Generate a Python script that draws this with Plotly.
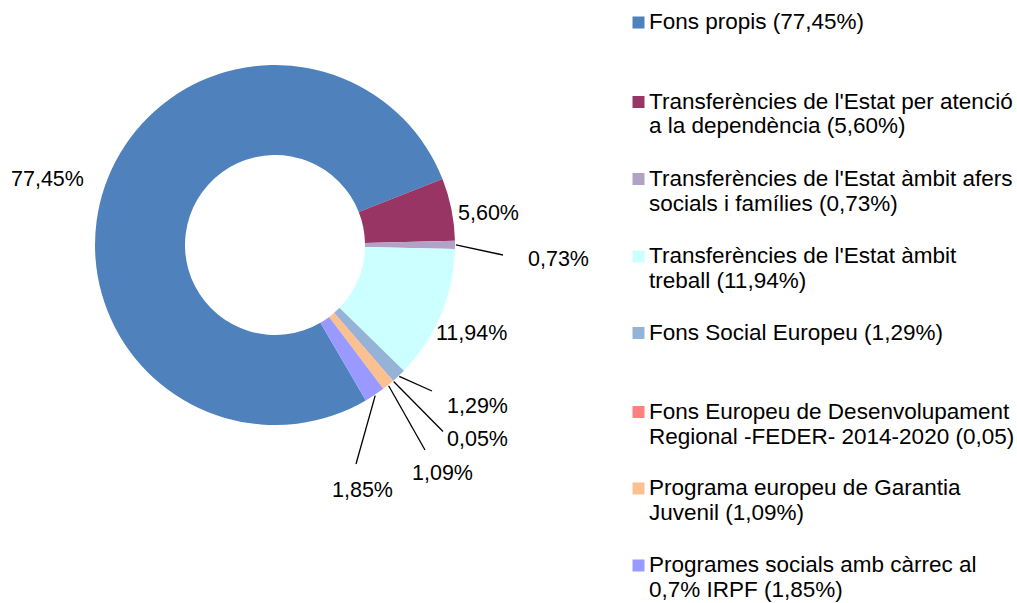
import math
import plotly.graph_objects as go

# ---------------- data ----------------
categories = [
    "Fons propis",
    "Transferències de l'Estat per atenció a la dependència",
    "Transferències de l'Estat àmbit afers socials i famílies",
    "Transferències de l'Estat àmbit treball",
    "Fons Social Europeu",
    "Fons Europeu de Desenvolupament Regional -FEDER- 2014-2020",
    "Programa europeu de Garantia Juvenil",
    "Programes socials amb càrrec al 0,7% IRPF",
]
values = [77.45, 5.60, 0.73, 11.94, 1.29, 0.05, 1.09, 1.85]
legend_labels = [
    "Fons propis (77,45%)",
    "Transferències de l'Estat per atenció<br>a la dependència (5,60%)",
    "Transferències de l'Estat àmbit afers<br>socials i famílies (0,73%)",
    "Transferències de l'Estat àmbit<br>treball (11,94%)",
    "Fons Social Europeu (1,29%)",
    "Fons Europeu de Desenvolupament<br>Regional -FEDER- 2014-2020 (0,05)",
    "Programa europeu de Garantia<br>Juvenil (1,09%)",
    "Programes socials amb càrrec al<br>0,7% IRPF (1,85%)",
]

# ---------------- style / layout ----------------
colors = ["#4F81BD", "#983564", "#B3A2C7", "#CCFFFF",
          "#95B3D7", "#FF8080", "#FAC090", "#9999FF"]
W, H = 1017, 603
CX, CY, R = 275.0, 245.0, 180.0
HOLE = 0.5
ROTATION = 149.7
FONT = "Liberation Sans, Arial, sans-serif"
LABEL_SIZE = 21.5
LEGEND_SIZE = 22.5

# label centre positions (px) and optional leader-line end points (px)
label_pos = [(47.5, 179), (488.5, 212.5), (558, 259), (471, 332.5),
             (477, 406), (477, 439), (442, 473), (362.5, 490)]
leader_end = [None, None, (503, 255), None,
              (432, 391), (443, 431.5), (425, 450), (356, 464)]

legend_y = [21.5, 101, 178, 255.5, 332, 411, 487.5, 564.5]  # cap centre of first line
legend_marker_x = 632.5
legend_text_x = 647
legend_line_gap = 25
marker_size = 12


def px2paper(x, y):
    return x / W, 1 - y / H


fig = go.Figure()
fig.add_trace(go.Pie(
    labels=categories,
    values=values,
    hole=HOLE,
    sort=False,
    direction="clockwise",
    rotation=ROTATION,
    textinfo="none",
    hoverinfo="label+percent",
    marker=dict(colors=colors, line=dict(width=0)),
    domain=dict(x=[(CX - R) / W, (CX + R) / W],
                y=[1 - (CY + R) / H, 1 - (CY - R) / H]),
    showlegend=False,
))

annotations = []
shapes = []

# percentage labels
total = sum(values)
cum = 0.0
for i, v in enumerate(values):
    mid = math.radians(ROTATION + 360.0 * (cum + v / 2.0) / total)
    cum += v
    txt = f"{v:.2f}".replace(".", ",") + "%"
    lx, ly = label_pos[i]
    px, py = px2paper(lx, ly)
    annotations.append(dict(
        x=px, y=py, xref="paper", yref="paper", text=txt, showarrow=False,
        xanchor="center", yanchor="middle",
        font=dict(family=FONT, size=LABEL_SIZE, color="#000000"),
    ))
    if leader_end[i] is not None:
        sx = CX + R * 1.005 * math.sin(mid)
        sy = CY - R * 1.005 * math.cos(mid)
        x0, y0 = px2paper(sx, sy)
        x1, y1 = px2paper(*leader_end[i])
        shapes.append(dict(type="line", xref="paper", yref="paper",
                           x0=x0, y0=y0, x1=x1, y1=y1,
                           line=dict(color="#000000", width=1.3)))

# legend (markers + text lines)
for i, lab in enumerate(legend_labels):
    yc = legend_y[i]
    mx0, my0 = px2paper(legend_marker_x, yc + 1 - marker_size / 2)
    mx1, my1 = px2paper(legend_marker_x + marker_size, yc + 1 + marker_size / 2)
    shapes.append(dict(type="rect", xref="paper", yref="paper",
                       x0=mx0, y0=my0, x1=mx1, y1=my1,
                       fillcolor=colors[i], line=dict(width=0)))
    for j, line in enumerate(lab.split("<br>")):
        tx, ty = px2paper(legend_text_x, yc + j * legend_line_gap)
        annotations.append(dict(
            x=tx, y=ty, xref="paper", yref="paper", text=line, showarrow=False,
            xanchor="left", yanchor="middle",
            font=dict(family=FONT, size=LEGEND_SIZE, color="#000000"),
        ))

fig.update_layout(
    width=W, height=H,
    margin=dict(l=0, r=0, t=0, b=0),
    paper_bgcolor="white",
    plot_bgcolor="white",
    annotations=annotations,
    shapes=shapes,
    showlegend=False,
)

fig.write_html("out.html", config={"displayModeBar": False},
               post_script="document.body.style.margin='0';")
